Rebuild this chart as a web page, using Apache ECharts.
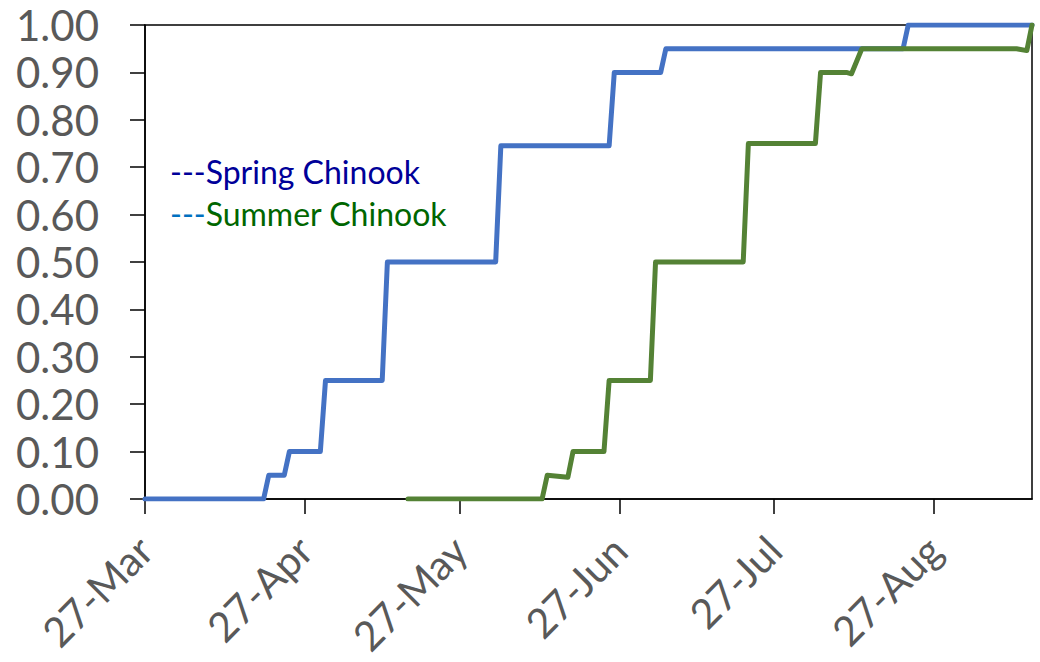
<!DOCTYPE html>
<html>
<head>
<meta charset="utf-8">
<script src="https://cdn.jsdelivr.net/npm/echarts@6/dist/echarts.min.js"></script>
<style>
  html, body { margin: 0; padding: 0; background: #fff; }
  #chart { width: 1040px; height: 662px; }
</style>
</head>
<body>
<div id="chart"></div>
<script>
// x axis
const axisStart = '2021-03-27'
const axisEnd = '2021-09-15'
const tickDates = ['2021-03-27', '2021-04-27', '2021-05-27', '2021-06-27', '2021-07-27', '2021-08-27']
const tickLabels = ['27-Mar', '27-Apr', '27-May', '27-Jun', '27-Jul', '27-Aug']

// Spring Chinook (cumulative proportion)
const springDates = ['2021-03-27', '2021-04-19', '2021-04-20', '2021-04-23', '2021-04-24', '2021-04-30',
  '2021-05-01', '2021-05-12', '2021-05-13', '2021-06-03', '2021-06-04', '2021-06-25', '2021-06-26',
  '2021-07-05', '2021-07-06', '2021-08-21', '2021-08-22', '2021-09-15']
const springValues = [0, 0, 0.05, 0.05, 0.10, 0.10, 0.25, 0.25, 0.50, 0.50, 0.745, 0.745, 0.90,
  0.90, 0.95, 0.95, 1.00, 1.00]

// Summer Chinook
const summerDates = ['2021-05-17', '2021-06-12', '2021-06-13', '2021-06-17', '2021-06-18', '2021-06-24',
  '2021-06-25', '2021-07-03', '2021-07-04', '2021-07-21', '2021-07-22', '2021-08-04', '2021-08-05',
  '2021-08-10', '2021-08-11', '2021-08-13', '2021-09-12', '2021-09-14', '2021-09-15']
const summerValues = [0, 0, 0.05, 0.046, 0.10, 0.10, 0.25, 0.25, 0.50, 0.50, 0.75, 0.75, 0.90,
  0.90, 0.897, 0.95, 0.95, 0.946, 1.00]

// dates -> timestamps (UTC, so no DST wobble)
function toTs(s) {
  const [y, m, d] = s.split('-').map(Number)
  return Date.UTC(y, m - 1, d)
}

const tickTs = tickDates.map(toTs)
const font = 'Lato, "Liberation Sans", sans-serif'

const chart = echarts.init(document.getElementById('chart'), null, { renderer: 'svg' })

chart.setOption({
  animation: false,
  backgroundColor: '#fff',
  grid: {
    left: 145,
    right: 8,
    top: 25,
    bottom: 163,
    show: true,
    borderColor: '#000',
    borderWidth: 1.5,
    outerBoundsMode: 'none'
  },
  legend: {
    orient: 'vertical',
    left: 160,
    top: 150,
    icon: 'none',
    itemWidth: 0,
    itemGap: 10,
    selectedMode: false,
    data: ['Spring Chinook', 'Summer Chinook'],
    formatter: (name) => name === 'Spring Chinook'
      ? '{d1|---}{t1|' + name + '}'
      : '{d2|---}{t2|' + name + '}',
    textStyle: {
      fontFamily: font,
      fontSize: 32,
      rich: {
        d1: { color: '#000099', fontSize: 32, fontFamily: font },
        t1: { color: '#000099', fontSize: 32, fontFamily: font },
        d2: { color: '#0070C0', fontSize: 32, fontFamily: font },
        t2: { color: '#006600', fontSize: 32, fontFamily: font }
      }
    }
  },
  xAxis: {
    type: 'value',
    min: toTs(axisStart),
    max: toTs(axisEnd),
    axisLine: { lineStyle: { color: '#000', width: 1.5 } },
    axisTick: {
      show: true,
      length: 15,
      customValues: tickTs,
      lineStyle: { color: '#000', width: 1.5 }
    },
    axisLabel: {
      customValues: tickTs,
      rotate: 45,
      margin: 44,
      color: '#595959',
      fontSize: 41,
      fontFamily: font,
      formatter: (val) => {
        const i = tickTs.findIndex(t => Math.abs(t - val) < 43200000)
        return i >= 0 ? tickLabels[i] : ''
      }
    },
    splitLine: { show: false }
  },
  yAxis: {
    type: 'value',
    min: 0,
    max: 1,
    interval: 0.1,
    axisLine: { show: true, lineStyle: { color: '#000', width: 1.5 } },
    axisTick: { show: true, length: 15, lineStyle: { color: '#000', width: 1.5 } },
    axisLabel: {
      margin: 46,
      color: '#595959',
      fontSize: 42,
      fontFamily: font,
      formatter: (v) => v.toFixed(2)
    },
    splitLine: { show: false }
  },
  series: [
    {
      name: 'Spring Chinook',
      type: 'line',
      showSymbol: false,
      data: springDates.map((d, i) => [toTs(d), springValues[i]]),
      lineStyle: { color: '#4472C4', width: 5, cap: 'round', join: 'round' },
      itemStyle: { color: '#4472C4' }
    },
    {
      name: 'Summer Chinook',
      type: 'line',
      showSymbol: false,
      data: summerDates.map((d, i) => [toTs(d), summerValues[i]]),
      lineStyle: { color: '#548235', width: 5, cap: 'round', join: 'round' },
      itemStyle: { color: '#548235' }
    }
  ]
})
</script>
</body>
</html>
